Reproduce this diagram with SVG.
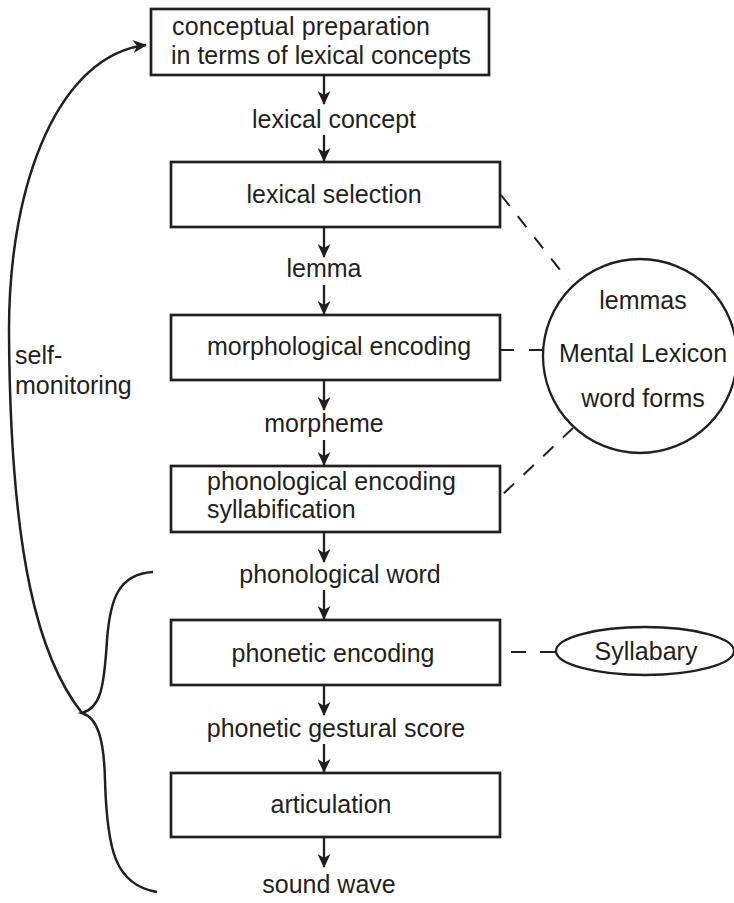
<svg xmlns="http://www.w3.org/2000/svg" width="734" height="903" viewBox="0 0 734 903">
<style>
text{font-family:"Liberation Sans",Arial,Helvetica,sans-serif;font-size:25px;fill:#231f20}
.box{fill:#fff;stroke:#231f20;stroke-width:2.7}
.arr{fill:none;stroke:#231f20;stroke-width:2.3;marker-end:url(#ah)}
.dash{fill:none;stroke:#231f20;stroke-width:2;stroke-dasharray:14 13}
.curve{fill:none;stroke:#231f20;stroke-width:2.5}
.m{text-anchor:middle}
</style>
<defs>
<marker id="ah" viewBox="0 0 14 13" refX="13" refY="6.5" markerWidth="15" markerHeight="13" markerUnits="userSpaceOnUse" orient="auto">
<path d="M0,0 L14,6.5 L0,13 L4,6.5 z" fill="#231f20"/>
</marker>
</defs>
<rect width="734" height="903" fill="#fff"/>
<g id="connectors">
<line class="arr" x1="324" y1="76" x2="324" y2="104"/>
<line class="arr" x1="324" y1="135" x2="324" y2="161"/>
<line class="arr" x1="324" y1="228" x2="324" y2="257"/>
<line class="arr" x1="324" y1="285" x2="324" y2="314"/>
<line class="arr" x1="324" y1="381" x2="324" y2="410"/>
<line class="arr" x1="324" y1="440" x2="324" y2="465"/>
<line class="arr" x1="324" y1="533" x2="324" y2="562"/>
<line class="arr" x1="324" y1="590" x2="324" y2="619"/>
<line class="arr" x1="324" y1="686" x2="324" y2="715"/>
<line class="arr" x1="324" y1="744" x2="324" y2="772"/>
<line class="arr" x1="324" y1="838" x2="324" y2="867"/>
<line class="dash" x1="501" y1="195" x2="568" y2="280"/>
<line class="dash" x1="501" y1="350" x2="544" y2="350" style="stroke-dasharray:13 15"/>
<line class="dash" x1="573" y1="428" x2="501" y2="496"/>
<line class="dash" x1="511" y1="652" x2="556" y2="652" style="stroke-dasharray:15 14"/>
<path class="curve" d="M82,713 C40,660 10,560 9,330 C9,180 60,55 146,45" marker-end="url(#ah)"/>
<path class="curve" d="M153,572 C118,574 110,600 107,640 C104,690 100,708 82,713 C98,718 104,740 105,780 C107,850 115,885 157,892"/>
</g>
<g id="n-concept">
<rect class="box" x="151" y="9" width="338" height="66"/>
<text x="172" y="35" textLength="258">conceptual preparation</text>
<text x="171" y="64">in terms of lexical concepts</text>
</g>
<g id="l-concept"><text class="m" x="334" y="128">lexical concept</text></g>
<g id="n-lexsel">
<rect class="box" x="171" y="162" width="329" height="65"/>
<text class="m" x="334" y="203">lexical selection</text>
</g>
<g id="l-lemma"><text class="m" x="324" y="277">lemma</text></g>
<g id="n-morph">
<rect class="box" x="171" y="315" width="329" height="65"/>
<text class="m" x="339" y="355">morphological encoding</text>
</g>
<g id="l-morpheme"><text class="m" x="324" y="432">morpheme</text></g>
<g id="n-phon">
<rect class="box" x="171" y="466" width="329" height="66"/>
<text x="207" y="490">phonological encoding</text>
<text x="207" y="518">syllabification</text>
</g>
<g id="l-phonword"><text class="m" x="340" y="583">phonological word</text></g>
<g id="n-phonetic">
<rect class="box" x="171" y="620" width="329" height="65"/>
<text class="m" x="333" y="662">phonetic encoding</text>
</g>
<g id="l-gestural"><text class="m" x="336" y="737">phonetic gestural score</text></g>
<g id="n-artic">
<rect class="box" x="171" y="773" width="329" height="64"/>
<text class="m" x="331" y="813">articulation</text>
</g>
<g id="l-sound"><text class="m" x="329" y="893">sound wave</text></g>
<g id="n-lexicon">
<circle cx="640" cy="356" r="97" fill="#fff" stroke="#231f20" stroke-width="2.3"/>
<text class="m" x="643" y="309">lemmas</text>
<text class="m" x="643" y="362">Mental Lexicon</text>
<text class="m" x="643" y="407">word forms</text>
</g>
<g id="n-syllabary">
<ellipse cx="645" cy="651" rx="89" ry="24" fill="#fff" stroke="#231f20" stroke-width="2.3"/>
<text class="m" x="646" y="660">Syllabary</text>
</g>
<g id="l-selfmon">
<text x="15" y="364">self-</text>
<text x="15" y="394">monitoring</text>
</g>
</svg>
